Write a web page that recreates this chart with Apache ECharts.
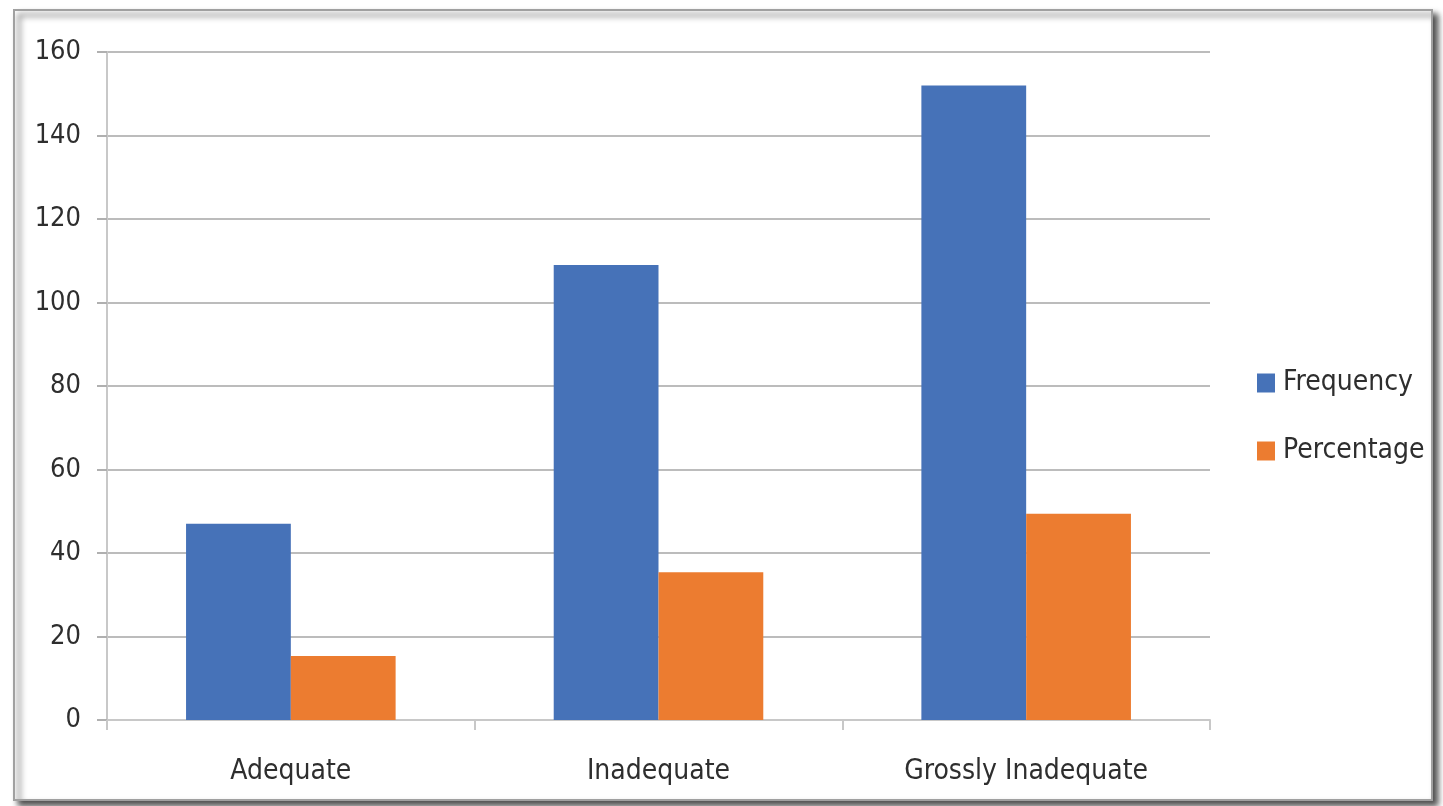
<!DOCTYPE html>
<html><head><meta charset="utf-8">
<script src="https://cdn.jsdelivr.net/npm/echarts@6/dist/echarts.min.js"></script>
<style>html,body{margin:0;padding:0;background:#fff}#c{width:1443px;height:806px}</style>
</head><body><div id="c"></div>
<script>
const categories = ['Adequate', 'Inadequate', 'Grossly Inadequate'];
const frequency = [47, 109, 152];
const percentage = [15.3, 35.4, 49.4];
const yTicks = [0, 20, 40, 60, 80, 100, 120, 140, 160];

const FONT = '"Liberation Sans Narrow", "DejaVu Sans Condensed", sans-serif';
const TXT = '#2e2e2e';
const chart = echarts.init(document.getElementById('c'));
chart.setOption({
  animation: false,
  graphic: [{
    type: 'rect', z: -10,
    shape: { x: 14, y: 10, width: 1418, height: 790 },
    style: { fill: '#fff', stroke: '#a0a0a0', lineWidth: 2,
      shadowColor: 'rgba(0,0,0,0.7)', shadowBlur: 6, shadowOffsetX: 5, shadowOffsetY: 5 }
  }],
  grid: { left: 107, right: 233, top: 52, bottom: 86 },
  legend: {
    orient: 'vertical', left: 1257, top: 369, itemGap: 40, padding: 0,
    itemWidth: 18, itemHeight: 19, icon: 'rect',
    textStyle: { fontFamily: FONT, fontSize: 28, color: TXT, padding: [0, 0, 0, 3] },
    data: ['Frequency', 'Percentage']
  },
  xAxis: {
    type: 'category', data: categories,
    axisLine: { lineStyle: { color: '#c8c8c8', width: 2 } },
    axisTick: { show: true, length: 10, lineStyle: { color: '#c8c8c8', width: 2 } },
    axisLabel: { fontFamily: FONT, fontSize: 28, color: TXT, margin: 38 }
  },
  yAxis: {
    type: 'value', min: 0, max: 160, interval: 20,
    axisLine: { show: true, lineStyle: { color: '#c8c8c8', width: 2 } },
    axisTick: { show: true, length: 10, lineStyle: { color: '#b0b0b0', width: 2 } },
    splitLine: { lineStyle: { color: '#bcbcbc', width: 2 } },
    axisLabel: { fontFamily: FONT, fontSize: 27, color: TXT, margin: 26,
      formatter: v => yTicks.includes(v) ? String(v) : '' }
  },
  series: [
    { name: 'Frequency', type: 'bar', data: frequency, barGap: '0%', barCategoryGap: '43%',
      itemStyle: { color: '#4672b8' } },
    { name: 'Percentage', type: 'bar', data: percentage,
      itemStyle: { color: '#ec7c30' } }
  ]
});
</script></body></html>
